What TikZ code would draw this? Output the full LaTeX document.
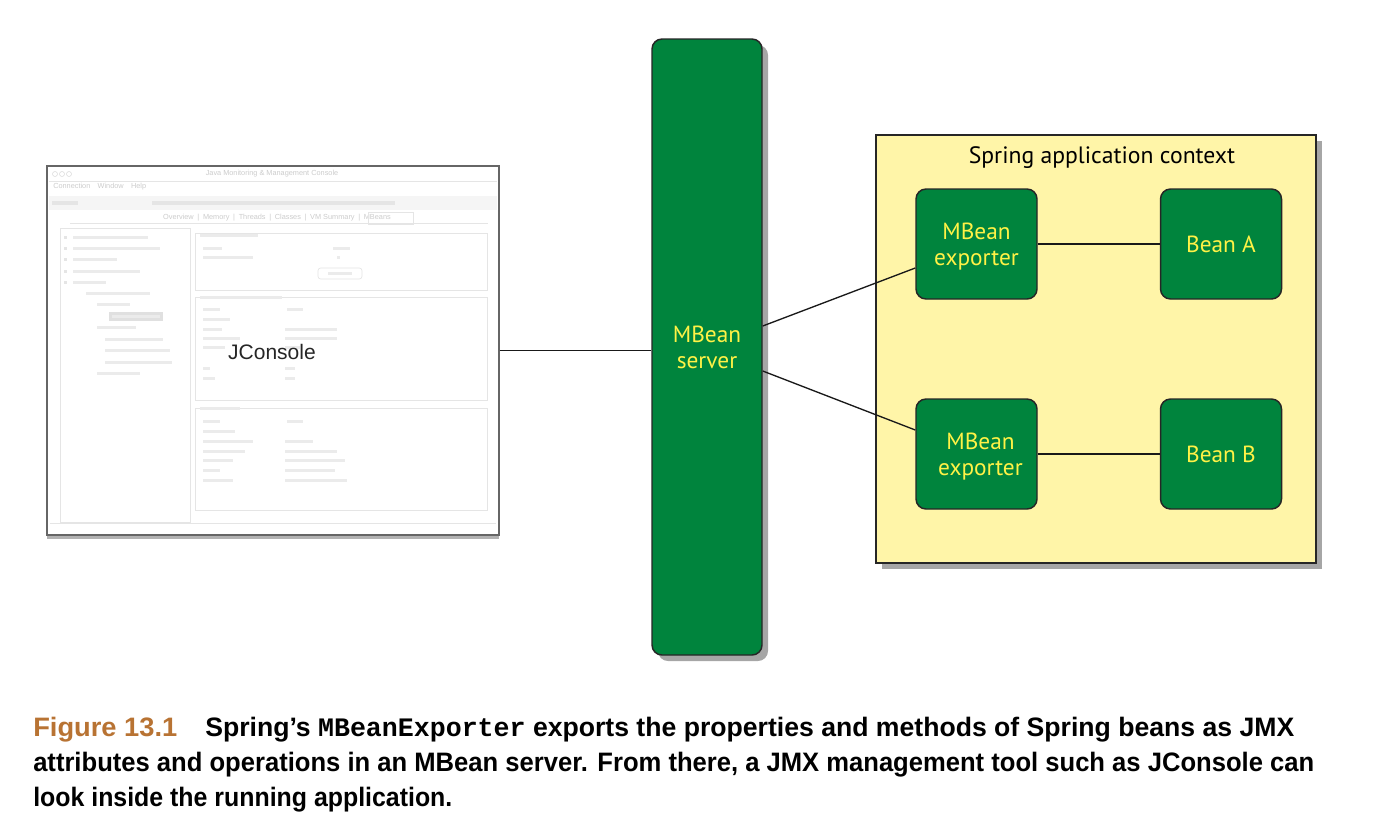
\documentclass[tikz,border=0pt]{standalone}
\usepackage{fontspec}
\usepackage{graphicx}
\setmainfont{PT Sans}
\newfontfamily\capfont{Liberation Sans}
\newfontfamily\capmono{Liberation Mono}
\newfontfamily\jfont{Liberation Sans}
\usetikzlibrary{shadows}
\definecolor{sgreen}{RGB}{0,132,61}
\definecolor{syellow}{RGB}{255,242,70}
\definecolor{ctxfill}{RGB}{255,245,168}
\definecolor{figbrown}{RGB}{184,115,51}
\tikzset{
  myshadow/.style={drop shadow={shadow xshift=4.5pt,shadow yshift=-4.5pt,opacity=0.35,fill=black}},
  greenbox/.style={draw=black!85,line width=1.1pt,fill=sgreen,rounded corners=7.5pt,
    text=syellow,align=center,inner sep=0pt,text depth=0pt,
    font=\fontsize{17.5pt}{19.5pt}\selectfont},
  exporterbox/.style={greenbox,minimum width=90.75pt,minimum height=82.5pt},
  ctxbox/.style={draw=black!85,line width=0.9pt,fill=ctxfill,minimum width=330pt,minimum height=321pt,myshadow},
  conn/.style={draw=black!90,line width=1pt},
  jwin/.style={draw=black!60,line width=1pt,fill=white,minimum width=339pt,minimum height=276.75pt,
    drop shadow={shadow xshift=0pt,shadow yshift=-3pt,opacity=0.3,fill=black}},
  fbar/.style={fill=black!8,draw=none},
  fline/.style={draw=black!10,line width=0.5pt},
  ftext/.style={text=black!20,inner sep=0pt,font=\jfont\fontsize{5.5pt}{6pt}\selectfont},
  capline/.style={anchor=base west,inner sep=0pt,font=\capfont\bfseries\fontsize{20pt}{24pt}\selectfont}
}
\begin{document}
\begin{tikzpicture}[x=0.75pt,y=-0.75pt]
\path[fill=white] (0,0) rectangle (1380,814);
\useasboundingbox (0,0) rectangle (1380,814);

% ---------- JConsole window ----------
\node[jwin] (jc) at (273,350.5) {};
\node[ftext] (jtitle) at (272,174) {Java Monitoring \& Management Console};
\foreach \cx in {55,62,69} \draw[black!15,line width=0.4pt] (\cx,174) circle (2.5);
\draw[fline] (49,181) -- (497,181);
\node[ftext,anchor=west] (jmenu) at (53,187) {Connection\quad Window\quad Help};
\fill[black!4] (49,196) rectangle (497,210);
\fill[black!10] (152,201) rectangle (395,205);
\fill[black!10] (52,201) rectangle (78,205);
\node[ftext] (jtabs) at (277,218) {Overview\enspace|\enspace Memory\enspace|\enspace Threads\enspace|\enspace Classes\enspace|\enspace VM Summary\enspace|\enspace MBeans};
\draw[fline] (70,223) -- (488,223);
\draw[fline] (368,212) rectangle (413,224);
% left tree panel
\draw[fline] (60,228) rectangle (190,522);
\fill[black!12] (109,312) rectangle (163,321);
\foreach \xa/\xb/\yy in {73/148/237,73/160/248,73/117/259,73/140/271,73/106/282,
  86/150/293,97/130/304,112/160/316,97/136/327,105/163/339,105/170/350,105/172/362,97/140/373}
  \fill[fbar] (\xa,\yy-1.5) rectangle (\xb,\yy+1.5);
\foreach \yy in {237,248,259,271,282} \fill[black!10] (64,\yy-1.5) rectangle (67,\yy+1.5);
% right panels
\draw[fline] (195,233) rectangle (487,290);
\draw[fline] (195,297) rectangle (487,400);
\draw[fline] (195,408) rectangle (487,510);
\draw[fline,rounded corners=2pt] (318,268) rectangle (362,279);
\fill[fbar] (328,272) rectangle (352,275);
\foreach \xa/\xb/\yy in {200/258/235,203/222/248,333/350/248,203/253/257,337/340/257,
  200/282/297,203/220/309,287/303/309,203/230/319,203/222/329,285/337/329,203/240/338,285/337/338,
  203/225/347,285/300/347,203/210/368,285/295/368,203/215/378,285/295/378,
  200/240/408,203/220/421,287/303/421,203/235/431,203/253/441,285/313/441,203/245/451,285/337/451,
  203/233/460,285/345/460,203/220/470,285/335/470,203/233/480,285/347/480}
  \fill[fbar] (\xa,\yy-1.5) rectangle (\xb,\yy+1.5);
\draw[fline] (50,523) -- (496,523);
\node[font=\jfont\fontsize{15.75pt}{18pt}\selectfont,text=black!85,inner sep=0pt] (jlabel) at (272,352) {JConsole};

% ---------- MBean server ----------
\node[greenbox,minimum width=82.5pt,minimum height=462pt,myshadow] (server) at (707,347) {MBean\\server};

% ---------- Spring application context ----------
\node[ctxbox] (ctx) at (1096,349) {};
\node[font=\fontsize{17.75pt}{19pt}\selectfont,inner sep=0pt] (ctxtitle) at (1102,158) {Spring application context};
\node[exporterbox] (exp1) at (976.5,244) {MBean\\exporter};
\node[exporterbox] (beanA) at (1221,244) {Bean A};
\node[exporterbox] (exp2) at (976.5,454) {\hspace*{6pt}MBean\\\hspace*{6pt}exporter};
\node[exporterbox] (beanB) at (1221,454) {Bean B};

% ---------- connectors ----------
\draw[conn] (jc.east) -- (jc.east -| server.west);
\draw[conn] ([yshift=15.75pt]server.east) -- ([yshift=-18pt]exp1.west);
\draw[conn] ([yshift=-18pt]server.east) -- ([yshift=18pt]exp2.west);
\draw[conn] (exp1) -- (beanA);
\draw[conn] (exp2) -- (beanB);

% ---------- caption ----------
\node[capline] (cap0) at (33,736) {\resizebox{108pt}{\height}{\color{figbrown}Figure 13.1}};
\node[capline] (cap1) at (205,736) {\resizebox{816.75pt}{\height}{Spring’s {\capmono MBeanExporter} exports the properties and methods of Spring beans as JMX}};
\node[capline] (cap2) at (33,771) {\resizebox{960.75pt}{\height}{attributes and operations in an MBean server. From there, a JMX management tool such as JConsole can}};
\node[capline] (cap3) at (33,806) {\resizebox{314.25pt}{\height}{look inside the running application.}};
\end{tikzpicture}
\end{document}
